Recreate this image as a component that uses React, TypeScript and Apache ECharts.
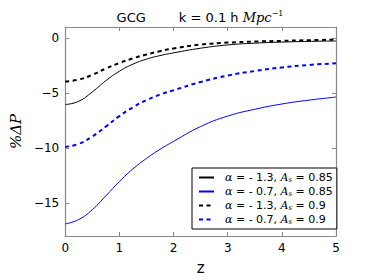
import React, { useEffect, useRef } from "react";
import * as echarts from "echarts";

const zValues = [0, 0.25, 0.5, 0.75, 1, 1.25, 1.5, 1.75, 2, 2.5, 3, 3.5, 4, 4.5, 5];
const blackSolid = [-6.05, -5.75, -4.9, -3.88, -3.02, -2.38, -1.92, -1.6, -1.35, -0.93, -0.63, -0.47, -0.37, -0.31, -0.27];
const blackDashed = [-3.95, -3.78, -3.35, -2.78, -2.27, -1.85, -1.5, -1.2, -0.95, -0.6, -0.42, -0.32, -0.26, -0.2, -0.15];
const blueDashed = [-9.9, -9.62, -8.95, -8.05, -7.1, -6.3, -5.65, -5.15, -4.75, -4.0, -3.42, -3.0, -2.68, -2.45, -2.3];
const blueSolid = [-16.9, -16.5, -15.6, -14.35, -13.05, -11.9, -10.95, -10.12, -9.4, -8.05, -7.1, -6.48, -6.0, -5.65, -5.37];
const xTicks = [0, 1, 2, 3, 4, 5];
const yTicks = [0, -5, -10, -15];
const legendNames = [
  "{a|α} = - 1.3, {i|A}{s|s} = 0.85",
  "{a|α} = - 0.7, {i|A}{s|s} = 0.85",
  "{a|α} = - 1.3, {i|A}{s|s} = 0.9",
  "{a|α} = - 0.7, {i|A}{s|s} = 0.9",
];

const pair = (ys: number[]) => zValues.map((z, i) => [z, ys[i]]);

export default function App() {
  const ref = useRef<HTMLDivElement>(null);
  useEffect(() => {
    if (!ref.current) return;
    const chart = echarts.init(ref.current, null, { renderer: "svg" });
    const font = "DejaVu Sans";
    const axisLine = { show: true, onZero: false, lineStyle: { color: "#888", width: 1.2 } };
    const tick = { show: true, inside: true, length: 4, lineStyle: { color: "#888" } };
    const mk = (name: string, data: number[], color: string, dashed: boolean, width: number) => ({
      name,
      type: "line",
      data: pair(data),
      smooth: 0.5,
      symbol: "none",
      xAxisIndex: 0,
      yAxisIndex: 0,
      lineStyle: { color, width, type: dashed ? [4, 3.5] : "solid" },
      itemStyle: { color },
    });
    chart.setOption({
      animation: false,
      textStyle: { fontFamily: font },
      grid: { left: 56, right: 38, top: 27, bottom: 42 },
      title: {
        text: "GCG        k = 0.1 h {m|Mpc}{e|−1}",
        left: 195,
        textAlign: "center",
        top: 4,
        textStyle: {
          fontFamily: font,
          fontSize: 13,
          fontWeight: "normal",
          color: "#000",
          rich: {
            m: { fontFamily: "DejaVu Serif", fontStyle: "italic", fontSize: 13, color: "#000" },
            e: { fontFamily: "DejaVu Serif", fontSize: 8, color: "#000", padding: [0, 0, 8, 0] },
          },
        },
      },
      legend: {
        orient: "vertical",
        left: 192,
        top: 168,
        width: 140,
        padding: [4, 4, 4, 6],
        borderColor: "#000",
        borderWidth: 1,
        borderRadius: 0,
        backgroundColor: "#fff",
        itemWidth: 15,
        itemHeight: 10,
        itemGap: 3,
        itemStyle: { opacity: 0 },
        data: legendNames,
        textStyle: {
          fontFamily: font,
          fontSize: 11,
          color: "#000",
          padding: [0, 0, 0, 6],
          rich: {
            a: { fontFamily: "DejaVu Serif", fontStyle: "italic", fontSize: 11, color: "#000" },
            i: { fontFamily: "DejaVu Serif", fontStyle: "italic", fontSize: 11, color: "#000" },
            s: { fontFamily: "DejaVu Serif", fontStyle: "italic", fontSize: 7, color: "#000", padding: [4, 0, 0, 0] },
          },
        },
      },
      xAxis: [
        {
          type: "value",
          min: 0,
          max: 5,
          interval: 1,
          name: "z",
          nameLocation: "middle",
          nameGap: 24,
          nameTextStyle: { fontFamily: font, fontSize: 15, color: "#000" },
          axisLine,
          axisTick: tick,
          splitLine: { show: false },
          axisLabel: { fontSize: 12, color: "#000", margin: 6, customValues: xTicks },
        },
        {
          type: "value",
          position: "top",
          min: 0,
          max: 5,
          interval: 1,
          axisLine,
          axisTick: tick,
          splitLine: { show: false },
          axisLabel: { show: false },
        },
      ],
      yAxis: [
        {
          type: "value",
          min: -18,
          max: 1,
          name: "%ΔP",
          nameLocation: "middle",
          nameGap: 36,
          nameTextStyle: { fontFamily: "DejaVu Serif", fontStyle: "italic", fontSize: 15, color: "#000" },
          axisLine,
          axisTick: { ...tick, customValues: yTicks },
          splitLine: { show: false },
          axisLabel: {
            fontSize: 12,
            color: "#000",
            margin: 6,
            customValues: yTicks,
            formatter: (v: number) => (v < 0 ? "−" + Math.abs(v) : String(v)),
          },
        },
        {
          type: "value",
          position: "right",
          min: -18,
          max: 1,
          axisLine,
          axisTick: { ...tick, customValues: yTicks },
          splitLine: { show: false },
          axisLabel: { show: false },
        },
      ],
      series: [
        mk(legendNames[0], blackSolid, "#000", false, 1),
        mk(legendNames[1], blueSolid, "#0000ff", false, 1),
        mk(legendNames[2], blackDashed, "#000", true, 2),
        mk(legendNames[3], blueDashed, "#0000ff", true, 2),
      ],
    });
    return () => chart.dispose();
  }, []);
  return <div ref={ref} style={{ width: 374, height: 280, position: "absolute", left: 0, top: 0 }} />;
}
